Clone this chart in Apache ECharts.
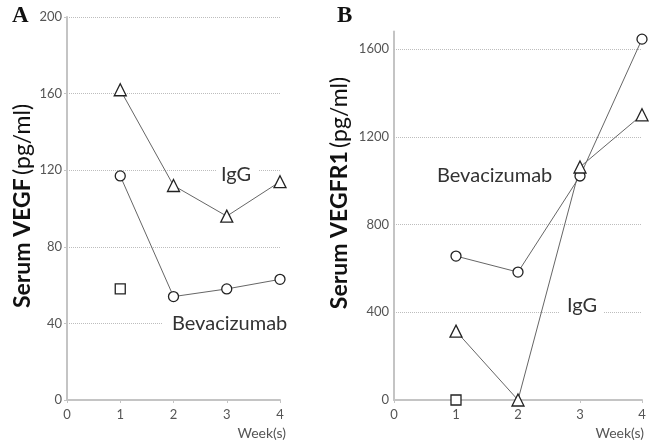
<!DOCTYPE html>
<html><head><meta charset="utf-8">
<script src="https://cdn.jsdelivr.net/npm/echarts@6/dist/echarts.min.js"></script>
<style>html,body{margin:0;padding:0;background:#fff}#c{width:659px;height:446px}</style>
</head><body><div id="c"></div>
<script>
const weeks = [1, 2, 3, 4];
const xTicks = [0, 1, 2, 3, 4];
const vegfIgG = [162, 112, 96, 114];
const vegfBev = [117, 54, 58, 63];
const vegfCtrlWeek = [1];
const vegfCtrl = [58];
const vegfTicks = [0, 40, 80, 120, 160, 200];
const r1Bev = [656, 583, 1021, 1645];
const r1IgG = [314, 0, 1062, 1300];
const r1CtrlWeek = [1];
const r1Ctrl = [0];
const r1Ticks = [0, 400, 800, 1200, 1600];

const pairs = (xs, ys) => xs.map((x, i) => [x, ys[i]]);
const FONT = 'Lato';
const axisGray = '#c4c4c4';
const labelGray = '#555';

function xAx(gi) {
  return {
    type: 'value', gridIndex: gi, min: 0, max: 4, interval: 1,
    axisLine: { show: true, lineStyle: { color: axisGray, width: 2 } },
    axisTick: { show: true, length: 3, lineStyle: { color: axisGray } },
    axisLabel: { color: labelGray, fontFamily: FONT, fontSize: 13, margin: 8 },
    splitLine: { show: false }
  };
}

const markerStyle = { color: '#fff', borderColor: '#222', borderWidth: 1.3 };
function lineSeries(xi, data, symbol, size) {
  return {
    type: 'line', xAxisIndex: xi, yAxisIndex: xi, data: data,
    symbol: symbol, symbolSize: size, showAllSymbol: true, clip: false,
    lineStyle: { color: '#666', width: 1 }, itemStyle: markerStyle, z: 5
  };
}

const chart = echarts.init(document.getElementById('c'), null, { renderer: 'canvas' });
chart.setOption({
  animation: false,
  backgroundColor: '#fff',
  grid: [
    { left: 67, top: 17, width: 213, height: 383 },
    { left: 394, top: 400 - 1680 * (351 / 1600), width: 248, height: 1680 * (351 / 1600) }
  ],
  xAxis: [xAx(0), xAx(1)],
  yAxis: [
    {
      type: 'value', gridIndex: 0, min: vegfTicks[0], max: vegfTicks[vegfTicks.length - 1], interval: 40,
      axisLine: { show: true, lineStyle: { color: axisGray, width: 2 } },
      axisTick: { show: true, length: 3, lineStyle: { color: axisGray } },
      axisLabel: { color: labelGray, fontFamily: FONT, fontSize: 13, margin: 5 },
      splitLine: { show: true, lineStyle: { color: '#bdbdbd', type: 'dotted', width: 1 } }
    },
    {
      type: 'value', gridIndex: 1, min: 0, max: 1680, interval: 400,
      axisLine: { show: true, lineStyle: { color: axisGray, width: 2 } },
      axisTick: { show: false },
      axisLabel: { color: labelGray, fontFamily: FONT, fontSize: 13, margin: 5,
        formatter: v => (r1Ticks.indexOf(v) >= 0 ? String(v) : '') },
      splitLine: { show: false }
    }
  ],
  series: [
    lineSeries(0, pairs(weeks, vegfIgG), 'triangle', 12),
    lineSeries(0, pairs(weeks, vegfBev), 'circle', 10),
    lineSeries(0, pairs(vegfCtrlWeek, vegfCtrl), 'rect', 10),
    Object.assign(lineSeries(1, pairs(weeks, r1Bev), 'circle', 10), {
      markLine: {
        silent: true, symbol: ['none', 'none'], label: { show: false },
        lineStyle: { color: '#bdbdbd', type: 'dotted', width: 1 },
        data: r1Ticks.filter(v => v > 0).map(v => ({ yAxis: v }))
      }
    }),
    lineSeries(1, pairs(weeks, r1IgG), 'triangle', 12),
    lineSeries(1, pairs(r1CtrlWeek, r1Ctrl), 'rect', 10)
  ],
  graphic: [
    { type: 'text', left: 12, top: 5, z: 10, style: { text: 'A', font: 'bold 23px "Liberation Serif"', fill: '#111' } },
    { type: 'text', left: 337, top: 5, z: 10, style: { text: 'B', font: 'bold 23px "Liberation Serif"', fill: '#111' } },
    { type: 'text', x: 23, y: 206, rotation: Math.PI / 2, z: 10,
      style: { text: '{b|Serum VEGF} {n|(pg/ml)}', textAlign: 'center', textVerticalAlign: 'middle',
        rich: { b: { fontFamily: FONT, fontWeight: 'bold', fontSize: 23, fill: '#111' }, n: { fontFamily: FONT, fontSize: 23, fill: '#111' } } } },
    { type: 'text', x: 340, y: 193, rotation: Math.PI / 2, z: 10,
      style: { text: '{b|Serum VEGFR1} {n|(pg/ml)}', textAlign: 'center', textVerticalAlign: 'middle',
        rich: { b: { fontFamily: FONT, fontWeight: 'bold', fontSize: 23, fill: '#111' }, n: { fontFamily: FONT, fontSize: 23, fill: '#111' } } } },
    { type: 'text', right: 659 - 286, top: 426, z: 10, style: { text: 'Week(s)', font: '14px Lato', fill: labelGray } },
    { type: 'text', right: 659 - 644, top: 426, z: 10, style: { text: 'Week(s)', font: '14px Lato', fill: labelGray } },
    { type: 'rect', shape: { x: 216, y: 166, width: 42, height: 18 }, z: 9, style: { fill: '#fff' } },
    { type: 'text', x: 236, y: 175, z: 10, style: { text: 'IgG', font: '20px Lato', fill: '#333', textAlign: 'center', textVerticalAlign: 'middle' } },
    { type: 'rect', shape: { x: 163, y: 315, width: 130, height: 18 }, z: 9, style: { fill: '#fff' } },
    { type: 'text', x: 172, y: 324, z: 10, style: { text: 'Bevacizumab', font: '20px Lato', fill: '#333', textAlign: 'left', textVerticalAlign: 'middle' } },
    { type: 'rect', shape: { x: 560, y: 297, width: 43, height: 18 }, z: 9, style: { fill: '#fff' } },
    { type: 'text', x: 582, y: 306, z: 10, style: { text: 'IgG', font: '20px Lato', fill: '#333', textAlign: 'center', textVerticalAlign: 'middle' } },
    { type: 'text', x: 437, y: 176, z: 10, style: { text: 'Bevacizumab', font: '20px Lato', fill: '#333', textAlign: 'left', textVerticalAlign: 'middle' } }
  ]
});
</script></body></html>
